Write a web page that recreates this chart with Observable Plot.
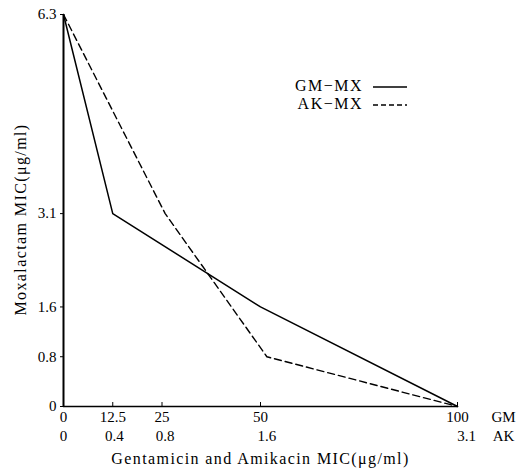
<!DOCTYPE html>
<html><head><meta charset="utf-8">
<script src="https://cdn.jsdelivr.net/npm/d3@7"></script>
<script src="https://cdn.jsdelivr.net/npm/@observablehq/plot@0.6"></script>
<style>
body{margin:0;background:#fff}
#chart{position:relative;width:528px;height:475px}
svg{font-family:"Liberation Serif",serif}
</style>
</head><body><div id="chart"></div>
<script>
// ---- data ----
const gmTicks = [0, 12.5, 25, 50, 100];          // gentamicin MIC (µg/ml)
const akTicks = [0, 0.4, 0.8, 1.6, 3.1];         // amikacin MIC (µg/ml)
const mxTicks = [0, 0.8, 1.6, 3.1, 6.3];         // moxalactam MIC (µg/ml)
const gmMxGM = [0, 12.5, 50, 100];               // GM-MX isobole: GM values
const gmMxMX = [6.3, 3.1, 1.6, 0];               //                MX values
const akMxAK = [0, 0.8, 1.6, 3.1];               // AK-MX isobole: AK values
const akMxMX = [6.3, 3.1, 0.8, 0];               //                MX values
const seriesNames = ["GM\u2212MX", "AK\u2212MX"];
const xTitle = "Gentamicin and Amikacin MIC(\u03bcg/ml)";
const yTitle = "Moxalactam MIC(\u03bcg/ml)";
const akMax = 3.1, gmMax = 100;
const akToGm = v => v * gmMax / akMax;            // shared horizontal axis

const gmMx = gmMxGM.map((g, i) => ({x: g, y: gmMxMX[i]}));
const akMx = akMxAK.map((a, i) => ({x: akToGm(a), y: akMxMX[i]}));

const T = {textAnchor: "middle", lineAnchor: "middle", fontSize: 15};

const plot = Plot.plot({
  width: 528, height: 475,
  marginTop: 14, marginRight: 71, marginBottom: 69, marginLeft: 63,
  style: {fontFamily: "Liberation Serif, serif", fontSize: "15px", background: "#fff", color: "#000"},
  x: {domain: [0, 100], axis: null},
  y: {domain: [0, 6.3]},
  marks: [
    Plot.axisY({ticks: mxTicks, tickSize: 3, tickPadding: 4, tickFormat: d => String(d), label: null, fontSize: 15}),
    Plot.ruleX(gmTicks, {x: d => d, y1: 0, y2: 0, insetTop: -4, stroke: "#000"}),
    Plot.text(gmTicks, {...T, x: d => d, frameAnchor: "bottom", dy: 11, text: d => String(d)}),
    Plot.text(akTicks.filter(d => d < akMax), {...T, x: d => akToGm(d), frameAnchor: "bottom", dy: 30, text: d => String(d)}),
    Plot.text(akTicks.filter(d => d >= akMax), {...T, x: d => akToGm(d), frameAnchor: "bottom", dy: 30, dx: 9, text: d => String(d)}),
    Plot.text(["GM"], {...T, frameAnchor: "bottom-right", dx: 46, dy: 11, text: d => d}),
    Plot.text(["AK"], {...T, frameAnchor: "bottom-right", dx: 46, dy: 30, text: d => d}),
    Plot.text([xTitle], {...T, fontSize: 16, frameAnchor: "bottom", dy: 52, text: d => d}),
    Plot.text([yTitle], {...T, fontSize: 16, frameAnchor: "left", dx: -43, dy: 9, rotate: -90, text: d => d}),
    Plot.ruleX([0], {stroke: "#000", strokeWidth: 2}),
    Plot.ruleY([0], {stroke: "#000", strokeWidth: 1.5}),
    Plot.line(gmMx, {x: "x", y: "y", stroke: "#000", strokeWidth: 1.5}),
    Plot.line(akMx, {x: "x", y: "y", stroke: "#000", strokeWidth: 1.4, strokeDasharray: "7,4"})
  ]
});
document.getElementById("chart").appendChild(plot);

// letter spacing for titles
d3.select(plot).selectAll("text").filter(function(){ return this.textContent === xTitle || this.textContent === yTitle; })
  .style("letter-spacing", "1.4px");

// legend (inside the plot, upper right)
const svg = d3.select(plot);
const lg = svg.append("g").attr("font-size", 16).attr("font-family", "Liberation Serif, serif");
seriesNames.forEach((name, i) => {
  const y = 85 + i * 18;
  lg.append("text").attr("x", 363).attr("y", y).attr("dy", "0.35em").attr("text-anchor", "end")
    .style("letter-spacing", "1.5px").text(name);
  lg.append("line").attr("x1", 373).attr("x2", 407).attr("y1", y + 2).attr("y2", y + 2)
    .attr("stroke", "#000").attr("stroke-width", 1.4)
    .attr("stroke-dasharray", i === 0 ? null : "5,3");
});
</script>
</body></html>
